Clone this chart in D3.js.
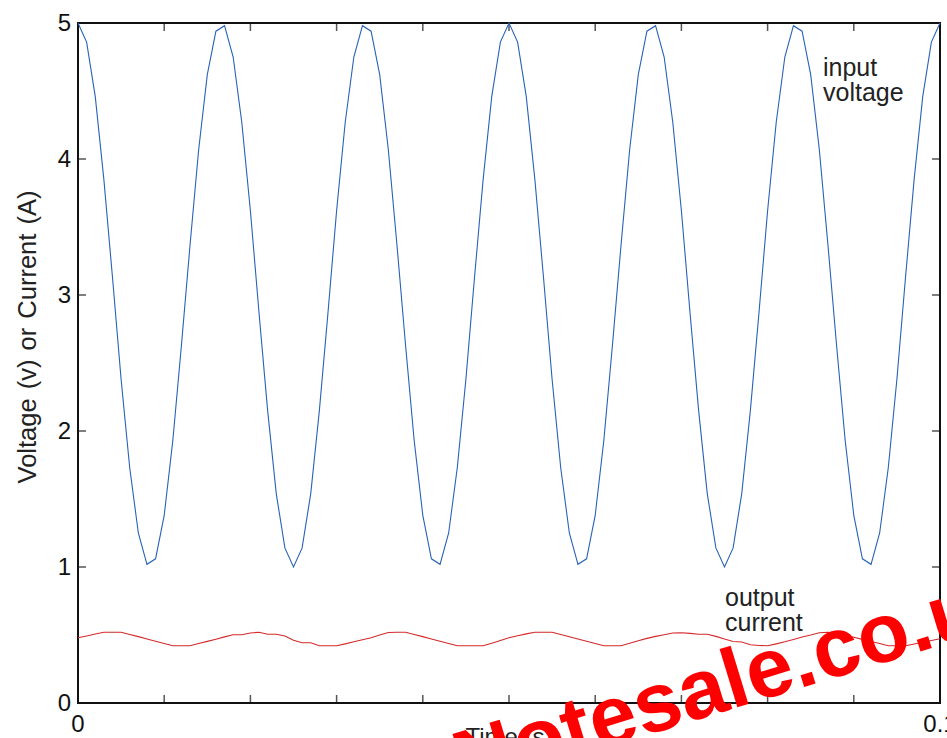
<!DOCTYPE html>
<html>
<head>
<meta charset="utf-8">
<script src="https://cdn.jsdelivr.net/npm/d3@7"></script>
<style>
  html, body { margin: 0; padding: 0; background: #fff; }
  svg { display: block; font-family: "Liberation Sans", Arial, Helvetica, sans-serif; }
</style>
</head>
<body>
<svg id="chart" width="947" height="738"></svg>
<script>
// Sample times (s), one every millisecond from 0 to 0.1
const timeSteps = d3.range(0, 101).map(k => k / 1000);

// Input voltage (V) at each sample
const inputVoltage = [
  5.00, 4.86, 4.46, 3.85, 3.13, 2.38, 1.73, 1.25, 1.02, 1.06,
  1.38, 1.93, 2.63, 3.37, 4.07, 4.62, 4.94, 4.98, 4.75, 4.27,
  3.62, 2.87, 2.15, 1.54, 1.14, 1.00, 1.14, 1.54, 2.15, 2.87,
  3.62, 4.27, 4.75, 4.98, 4.94, 4.62, 4.07, 3.37, 2.63, 1.93,
  1.38, 1.06, 1.02, 1.25, 1.73, 2.38, 3.13, 3.85, 4.46, 4.86,
  5.00, 4.86, 4.46, 3.85, 3.13, 2.38, 1.73, 1.25, 1.02, 1.06,
  1.38, 1.93, 2.63, 3.37, 4.07, 4.62, 4.94, 4.98, 4.75, 4.27,
  3.62, 2.87, 2.15, 1.54, 1.14, 1.00, 1.14, 1.54, 2.15, 2.87,
  3.62, 4.27, 4.75, 4.98, 4.94, 4.62, 4.07, 3.37, 2.63, 1.93,
  1.38, 1.06, 1.02, 1.25, 1.73, 2.38, 3.13, 3.85, 4.46, 4.86,
  5.00
];

// Output current (A) at each sample
const outputCurrent = [
  0.480, 0.493, 0.507, 0.520, 0.520, 0.520, 0.504, 0.488, 0.471, 0.454,
  0.438, 0.421, 0.421, 0.421, 0.437, 0.453, 0.469, 0.486, 0.502, 0.502,
  0.515, 0.520, 0.505, 0.505, 0.493, 0.461, 0.443, 0.443, 0.421, 0.421,
  0.421, 0.435, 0.450, 0.465, 0.480, 0.500, 0.518, 0.520, 0.520, 0.504,
  0.488, 0.471, 0.454, 0.437, 0.421, 0.421, 0.421, 0.421, 0.440, 0.460,
  0.480, 0.494, 0.508, 0.520, 0.520, 0.520, 0.503, 0.487, 0.470, 0.454,
  0.437, 0.421, 0.421, 0.421, 0.440, 0.458, 0.475, 0.490, 0.502, 0.515,
  0.517, 0.512, 0.506, 0.505, 0.490, 0.470, 0.452, 0.449, 0.428, 0.423,
  0.421, 0.435, 0.450, 0.467, 0.485, 0.500, 0.517, 0.520, 0.515, 0.500,
  0.484, 0.468, 0.452, 0.437, 0.421, 0.421, 0.421, 0.434, 0.447, 0.460,
  0.473
];

// Axis ticks and labels
const xTicks = d3.range(0, 11).map(k => k / 100);
const xTickLabels = [{ v: 0, t: "0" }, { v: 0.1, t: "0.1" }];
const yTicks = [0, 1, 2, 3, 4, 5];
const yTickLabels = ["0", "1", "2", "3", "4", "5"];

const svg = d3.select("#chart");
const margin = { left: 78, right: 7, top: 23, bottom: 35 };
const W = 947, H = 738;

const x = d3.scaleLinear().domain([0, 0.1]).range([margin.left, W - margin.right]);
const y = d3.scaleLinear().domain([0, 5]).range([H - margin.bottom, margin.top]);

const tickLen = 8;
const tickColor = "#555";
const labelSize = 24;

// Inward ticks on all four sides
const g = svg.append("g");
g.selectAll("line.xb").data(xTicks.slice(1, -1)).join("line")
  .attr("x1", d => x(d)).attr("x2", d => x(d))
  .attr("y1", y(0)).attr("y2", y(0) - tickLen)
  .attr("stroke", tickColor).attr("stroke-width", 1.5);
g.selectAll("line.xt").data(xTicks.slice(1, -1)).join("line")
  .attr("x1", d => x(d)).attr("x2", d => x(d))
  .attr("y1", y(5)).attr("y2", y(5) + tickLen)
  .attr("stroke", tickColor).attr("stroke-width", 1.5);
g.selectAll("line.yl").data(yTicks.slice(1, -1)).join("line")
  .attr("x1", x(0)).attr("x2", x(0) + tickLen)
  .attr("y1", d => y(d)).attr("y2", d => y(d))
  .attr("stroke", tickColor).attr("stroke-width", 1.5);
g.selectAll("line.yr").data(yTicks.slice(1, -1)).join("line")
  .attr("x1", x(0.1)).attr("x2", x(0.1) - tickLen)
  .attr("y1", d => y(d)).attr("y2", d => y(d))
  .attr("stroke", tickColor).attr("stroke-width", 1.5);

// Frame
svg.append("rect")
  .attr("x", x(0)).attr("y", y(5))
  .attr("width", x(0.1) - x(0)).attr("height", y(0) - y(5))
  .attr("fill", "none").attr("stroke", "#111").attr("stroke-width", 2);

// Tick labels
svg.selectAll("text.ytl").data(yTicks).join("text")
  .attr("x", x(0) - 7).attr("y", d => y(d) + 8)
  .attr("text-anchor", "end").attr("font-size", labelSize).attr("fill", "#111")
  .text((d, i) => yTickLabels[i]);
svg.selectAll("text.xtl").data(xTickLabels).join("text")
  .attr("x", d => x(d.v)).attr("y", y(0) + 29)
  .attr("text-anchor", "middle").attr("font-size", labelSize).attr("fill", "#111")
  .text(d => d.t);

// Axis titles
svg.append("text")
  .attr("transform", "translate(36,337) rotate(-90)")
  .attr("text-anchor", "middle").attr("font-size", 25.5).attr("word-spacing", 2)
  .attr("fill", "#222")
  .text("Voltage (v) or Current (A)");
svg.append("text")
  .attr("x", x(0.05)).attr("y", y(0) + 42)
  .attr("text-anchor", "middle").attr("font-size", labelSize).attr("fill", "#222")
  .text("Time (s)");

// Series lines
const line = d3.line().x((d, i) => x(timeSteps[i])).y(d => y(d));
svg.append("path").datum(inputVoltage)
  .attr("d", line).attr("fill", "none")
  .attr("stroke", "#2763b5").attr("stroke-width", 1.1);
svg.append("path").datum(outputCurrent)
  .attr("d", line).attr("fill", "none")
  .attr("stroke", "#d42a2a").attr("stroke-width", 1.1);

// Series annotations
const note = (tx, ty, lines) => {
  const t = svg.append("text").attr("font-size", 25).attr("fill", "#222");
  lines.forEach((s, i) => t.append("tspan").attr("x", tx).attr("y", ty + i * 25).text(s));
};
note(823, 76, ["input", "voltage"]);
note(725, 606, ["output", "current"]);

// Overlay stamp
svg.append("text")
  .attr("transform", "translate(464,791) rotate(-17)")
  .attr("font-size", 84).attr("font-weight", "bold").attr("fill", "#f00")
  .text("Notesale.co.uk");
</script>
</body>
</html>
